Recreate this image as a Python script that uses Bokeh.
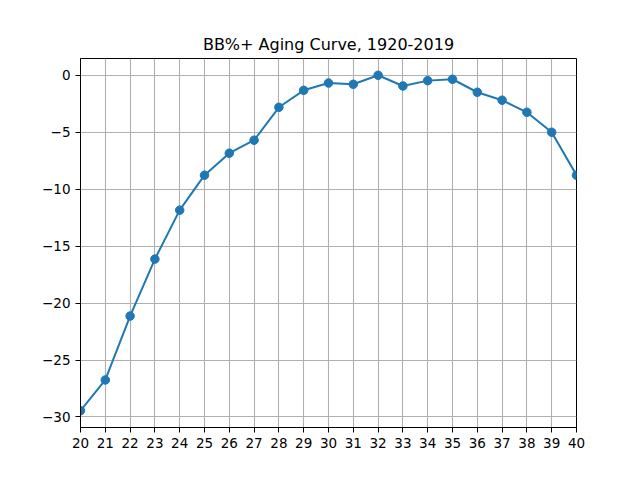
from bokeh.plotting import figure
from bokeh.models import Range1d, FixedTicker
from bokeh.embed import file_html
from bokeh.resources import INLINE

ages = [20, 21, 22, 23, 24, 25, 26, 27, 28, 29, 30, 31, 32, 33, 34, 35, 36, 37, 38, 39, 40]
bbp = [-29.45, -26.75, -21.14, -16.14, -11.84, -8.77, -6.84, -5.70, -2.81, -1.32, -0.68,
       -0.79, 0.0, -0.94, -0.47, -0.35, -1.49, -2.19, -3.25, -5.0, -8.77]
x_ticks = list(range(20, 41))
y_ticks = [-30, -25, -20, -15, -10, -5, 0]

lo, hi = min(bbp), max(bbp)
pad = (hi - lo) * 0.05

p = figure(width=624, height=464, output_backend="svg", toolbar_location=None,
           x_range=Range1d(20, 40), y_range=Range1d(lo - pad, hi + pad),
           min_border_left=80, min_border_right=48, min_border_top=58, min_border_bottom=37,
           title="BB%+ Aging Curve, 1920-2019")
p.title.align = "center"
p.title.text_font = "DejaVu Sans"
p.title.text_font_size = "16px"
p.title.text_font_style = "normal"
p.title.text_color = "black"

p.outline_line_color = "black"
p.outline_line_width = 1
p.background_fill_color = "white"
p.border_fill_color = "white"

for ax, ticks in ((p.xaxis, x_ticks), (p.yaxis, y_ticks)):
    ax.ticker = FixedTicker(ticks=ticks)
    ax.major_label_text_font = "DejaVu Sans"
    ax.major_label_text_font_size = "13.5px"
    ax.major_label_text_color = "black"
    ax.major_tick_out = 5
    ax.major_tick_in = 0
    ax.minor_tick_line_color = None
    ax.axis_line_color = "black"
    ax.major_tick_line_color = "black"

p.grid.grid_line_color = "#b0b0b0"
p.grid.grid_line_width = 1.1

p.line(ages, bbp, line_color="#1f77b4", line_width=2)
p.scatter(ages, bbp, size=8.5, fill_color="#1f77b4", line_color="#1f77b4")

open("out.html", "w").write(file_html(p, INLINE))
